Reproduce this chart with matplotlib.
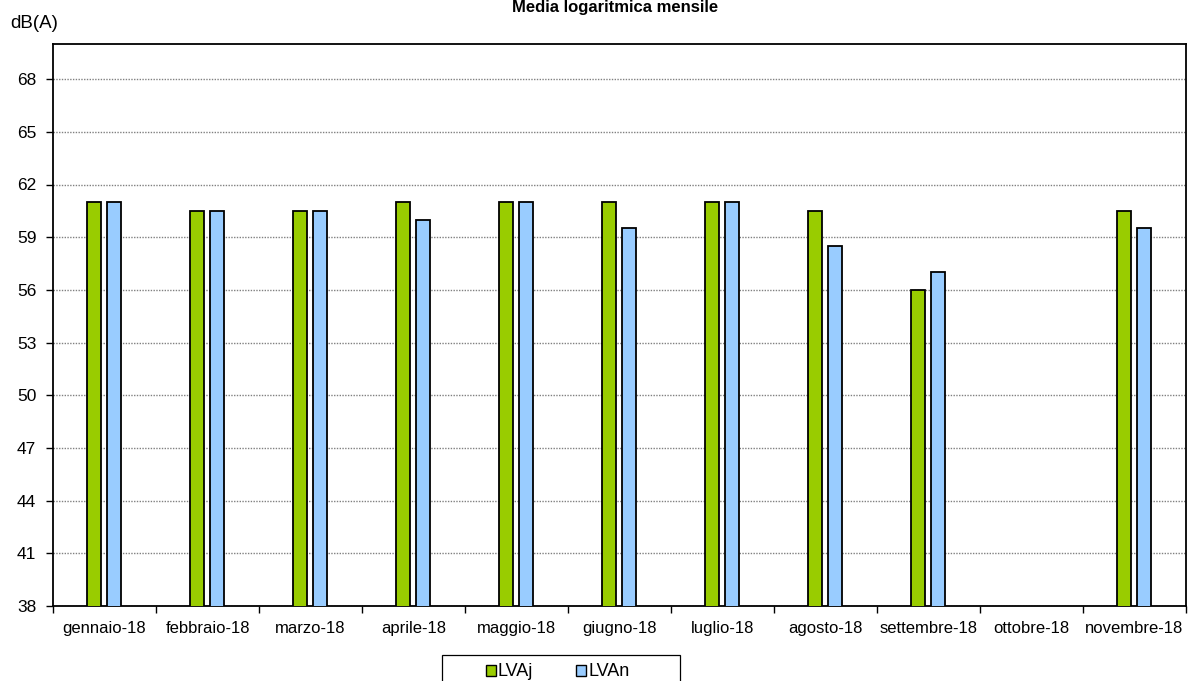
import numpy as np
import matplotlib
matplotlib.use('Agg')
import matplotlib.pyplot as plt
from matplotlib.ticker import FixedLocator, NullFormatter
from matplotlib.patches import Rectangle

# data
months = ['gennaio-18', 'febbraio-18', 'marzo-18', 'aprile-18', 'maggio-18',
          'giugno-18', 'luglio-18', 'agosto-18', 'settembre-18', 'ottobre-18',
          'novembre-18']
lvaj = [61, 60.5, 60.5, 61, 61, 61, 61, 60.5, 56, np.nan, 60.5]
lvan = [61, 60.5, 60.5, 60, 61, 59.5, 61, 58.5, 57, np.nan, 59.5]
y_ticks = [38, 41, 44, 47, 50, 53, 56, 59, 62, 65, 68]

plt.rcParams['font.family'] = ['Liberation Sans', 'DejaVu Sans']

W, H = 1189, 681
fig = plt.figure(figsize=(W / 100, H / 100), dpi=100)
ax = fig.add_axes([53 / W, 1 - 606 / H, 1133 / W, 562 / H])

x = np.arange(len(months))
width = 0.136
ax.bar(x - 0.1, lvaj, width, color='#99CC00', edgecolor='black',
       linewidth=1.3, label='LVAj', zorder=3)
ax.bar(x + 0.093, lvan, width, color='#99CCFF', edgecolor='black',
       linewidth=1.3, label='LVAn', zorder=3)

ax.set_xlim(-0.5, len(months) - 0.5)
ax.set_ylim(38, 70)
ax.set_yticks(y_ticks)
ax.set_xticks(x)
ax.set_xticklabels(months, fontsize=12)
ax.tick_params(axis='x', which='major', length=0, pad=11)
ax.xaxis.set_minor_locator(FixedLocator(np.arange(-0.5, len(months), 1)))
ax.xaxis.set_minor_formatter(NullFormatter())
ax.tick_params(axis='x', which='minor', length=5, width=1, direction='out')
ax.tick_params(axis='y', length=5, width=1, direction='out', labelsize=12.5,
               pad=7)

#dotted grey gridlines
ax.yaxis.grid(True, linestyle=(0, (1, 1)), color='#808080', linewidth=1,
              zorder=0)
for s in ax.spines.values():
    s.set_linewidth(1.3)

fig.text(10 / W, 1 - 24 / H, 'dB(A)', fontsize=13.5, ha='left',
         va='center')
fig.text(615 / W, 1 - 12 / H, 'Media logaritmica mensile',
         fontsize=12, fontweight='bold', ha='center', va='baseline')

#legend box drawn by hand, it runs off the bottom of the picture
fig.add_artist(Rectangle((442 / W, -0.02), 238 / W, (H - 655) / H + 0.02,
                         transform=fig.transFigure, facecolor='white',
                         edgecolor='black', linewidth=0.9))
leg = fig.legend(loc='center left', bbox_to_anchor=(486 / W, 1 - 672 / H),
                 ncol=2, frameon=False, fontsize=13, handlelength=0.55,
                 handleheight=0.55, handletextpad=0.1, columnspacing=2.4,
                 borderpad=0, borderaxespad=0)
for h in leg.legend_handles:
    h.set_linewidth(1)

fig.savefig('out.png', dpi=100)
